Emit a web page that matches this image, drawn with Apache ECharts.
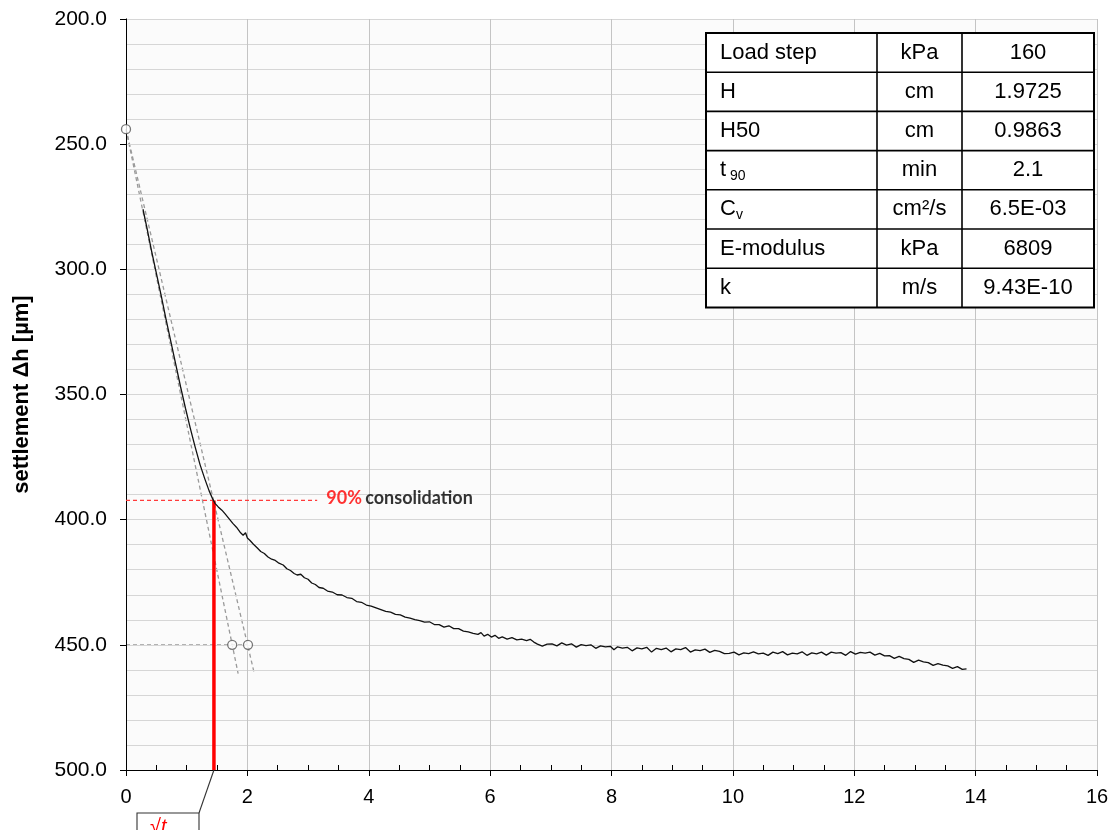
<!DOCTYPE html>
<html>
<head>
<meta charset="utf-8">
<script src="https://cdn.jsdelivr.net/npm/echarts@6/dist/echarts.min.js"></script>
<style>
  html, body { margin: 0; padding: 0; background: #ffffff; }
  #chart { width: 1114px; height: 830px; }
</style>
</head>
<body>
<div id="chart"></div>
<script>
// Square root of time [√min] for each reading
const sqrtTime = [
  0.28, 0.35, 0.42, 0.50, 0.58, 0.66, 0.74, 0.82, 0.90, 0.98,
  1.06, 1.14, 1.22, 1.30, 1.37, 1.43, 1.47, 1.52, 1.58, 1.63,
  1.70, 1.76, 1.82, 1.88, 1.93, 1.97, 2.00, 2.04, 2.10, 2.16,
  2.22, 2.28, 2.34, 2.40, 2.46, 2.52, 2.59, 2.65, 2.71, 2.77,
  2.82, 2.88, 2.94, 3.00, 3.06, 3.12, 3.18, 3.25, 3.32, 3.40,
  3.48, 3.56, 3.64, 3.72, 3.80, 3.88, 3.96, 4.04, 4.12, 4.20,
  4.28, 4.36, 4.44, 4.52, 4.60, 4.68, 4.76, 4.84, 4.92, 5.00,
  5.08, 5.16, 5.24, 5.32, 5.40, 5.48, 5.56, 5.64, 5.72, 5.80,
  5.85, 5.90, 5.96, 6.02, 6.08, 6.14, 6.20, 6.28, 6.36, 6.44,
  6.52, 6.60, 6.66, 6.72, 6.78, 6.86, 6.94, 7.02, 7.10, 7.18,
  7.26, 7.34, 7.42, 7.50, 7.58, 7.66, 7.74, 7.82, 7.90, 7.98,
  8.04, 8.10, 8.18, 8.26, 8.34, 8.42, 8.50, 8.58, 8.66, 8.74,
  8.82, 8.90, 8.98, 9.06, 9.14, 9.22, 9.30, 9.38, 9.46, 9.54,
  9.62, 9.70, 9.78, 9.86, 9.94, 10.02, 10.10, 10.18, 10.26, 10.34,
  10.42, 10.50, 10.58, 10.66, 10.74, 10.82, 10.90, 10.98, 11.06, 11.14,
  11.22, 11.30, 11.38, 11.46, 11.54, 11.62, 11.70, 11.78, 11.86, 11.94,
  12.02, 12.10, 12.18, 12.26, 12.34, 12.42, 12.50, 12.58, 12.66, 12.74,
  12.82, 12.90, 12.98, 13.06, 13.14, 13.22, 13.30, 13.38, 13.46, 13.54,
  13.62, 13.70, 13.78, 13.85
];

// Measured settlement Δh [µm]
const settlement = [
  276.0, 284.0, 292.5, 301.5, 310.5, 320.0, 329.0, 338.0, 347.0, 355.5,
  363.5, 371.0, 378.0, 383.8, 388.5, 391.8, 393.6, 394.9, 396.2, 397.6,
  399.7, 401.5, 403.0, 405.0, 406.2, 405.2, 407.3, 408.2, 409.8, 411.2,
  412.7, 413.5, 414.9, 415.8, 416.3, 417.4, 418.1, 419.6, 420.3, 421.5,
  422.1, 421.8, 423.2, 423.8, 425.3, 425.9, 427.1, 427.4, 428.5, 428.9,
  430.0, 430.1, 431.1, 431.4, 432.7, 433.0, 434.1, 434.5, 435.2, 435.9,
  436.6, 436.9, 437.8, 438.0, 438.9, 439.3, 439.9, 440.3, 440.9, 440.8,
  441.9, 441.9, 442.9, 442.4, 443.5, 443.5, 444.5, 444.8, 445.4, 445.8,
  445.1, 446.5, 445.8, 446.9, 446.2, 447.4, 446.8, 447.7, 447.1, 448.0,
  447.7, 448.3, 447.8, 448.9, 449.7, 450.5, 449.7, 449.6, 450.4, 449.2,
  450.1, 449.6, 450.9, 449.9, 450.3, 450.0, 451.4, 450.4, 450.8, 450.6,
  452.0, 450.8, 451.3, 451.0, 452.4, 451.2, 451.6, 451.0, 452.9, 451.4,
  451.9, 451.3, 452.8, 451.6, 451.9, 451.1, 452.9, 452.0, 452.3, 451.7,
  453.0, 452.2, 452.6, 453.5, 453.4, 452.9, 454.0, 453.2, 453.5, 452.8,
  453.6, 453.3, 454.2, 452.9, 453.5, 452.7, 454.0, 453.3, 453.6, 452.8,
  454.2, 453.2, 453.6, 452.9, 454.1, 452.9, 453.3, 453.1, 454.2, 452.7,
  453.7, 453.0, 453.3, 452.9, 454.1, 453.4, 454.4, 454.3, 455.4, 454.6,
  455.5, 455.8, 457.0, 456.1, 456.8, 457.1, 458.2, 457.5, 458.1, 458.4,
  459.4, 458.7, 459.8, 459.6
];

// Taylor construction: initial tangent and the 1.15× abscissa line
const constructionStart = [0, 244];
const tangentEnd = [1.848, 461.5];
const offsetLineEnd = [2.115, 461.5];
const referenceLevel = 450;
const tangentAtLevel = [1.75, 450];
const offsetAtLevel = [2.01, 450];

// 90 % consolidation point
const t90Root = 1.449;
const settlement90 = 392.3;
const label90End = 3.15;
const label90Pos = [3.3, 391.6];

// Axis ranges
const xRange = [0, 16];
const yRange = [200, 500];

// Result table
const tableNames = ['Load step', 'H', 'H50', 't_90', 'C_v', 'E-modulus', 'k'];
const tableUnits = ['kPa', 'cm', 'cm', 'min', 'cm²/s', 'kPa', 'm/s'];
const tableValues = ['160', '1.9725', '0.9863', '2.1', '6.5E-03', '6809', '9.43E-10'];

const chart = echarts.init(document.getElementById('chart'), null, { renderer: 'canvas' });

const curveData = sqrtTime.map((t, i) => [t, settlement[i]]);

const baseFont = 'Liberation Sans, Arial, sans-serif';

// Result table as graphic elements
function buildTable() {
  const left = 706, top = 33, colW = [171, 85, 132], rowH = 39.2;
  const width = colW[0] + colW[1] + colW[2];
  const height = rowH * tableNames.length;
  const els = [];
  els.push({ type: 'rect', shape: { x: left, y: top, width: width, height: height },
    style: { fill: '#ffffff', stroke: '#000', lineWidth: 2 }, z: 10 });
  for (let r = 1; r < tableNames.length; r++) {
    els.push({ type: 'line', shape: { x1: left, y1: top + r * rowH, x2: left + width, y2: top + r * rowH },
      style: { stroke: '#000', lineWidth: 1.6 }, z: 11 });
  }
  let cx = left;
  for (let c = 0; c < 2; c++) {
    cx += colW[c];
    els.push({ type: 'line', shape: { x1: cx, y1: top, x2: cx, y2: top + height },
      style: { stroke: '#000', lineWidth: 1.6 }, z: 11 });
  }
  tableNames.forEach((name, r) => {
    const cy = top + r * rowH + rowH / 2;
    const parts = name.split('_');
    const txt = parts.length > 1 ? '{m|' + parts[0] + '}{s|' + (parts[1] === '90' ? ' 90' : parts[1]) + '}' : '{m|' + name + '}';
    els.push({ type: 'text', x: left + 14, y: cy, z: 12,
      style: { text: txt, verticalAlign: 'middle', align: 'left',
        rich: {
          m: { fontSize: 22, fontFamily: baseFont, fill: '#000' },
          s: { fontSize: 14, fontFamily: baseFont, fill: '#000', padding: [11, 0, 0, 0] }
        } } });
    els.push({ type: 'text', x: left + colW[0] + colW[1] / 2, y: cy, z: 12,
      style: { text: tableUnits[r], fontSize: 22, fontFamily: baseFont, fill: '#000', align: 'center', verticalAlign: 'middle' } });
    els.push({ type: 'text', x: left + colW[0] + colW[1] + colW[2] / 2, y: cy, z: 12,
      style: { text: tableValues[r], fontSize: 22, fontFamily: baseFont, fill: '#000', align: 'center', verticalAlign: 'middle' } });
  });
  return els;
}

const dashGray = { color: '#9a9a9a', width: 1.3, type: [4, 3] };

const option = {
  animation: false,
  backgroundColor: '#ffffff',
  grid: { left: 126, right: 17, top: 19, bottom: 60, show: true, backgroundColor: '#fbfbfb', borderWidth: 0,
    containLabel: false, outerBoundsMode: 'none' },
  xAxis: [
    {
      type: 'value', min: xRange[0], max: xRange[1], interval: 2,
      axisLine: { show: true, onZero: false, lineStyle: { color: '#000', width: 1 } },
      axisTick: { show: true, length: 6, lineStyle: { color: '#000', width: 1 } },
      axisLabel: { fontSize: 20, fontFamily: baseFont, color: '#000', margin: 17 },
      splitLine: { show: true, lineStyle: { color: '#c4c4c4', width: 1 } },
      z: 3
    },
    {
      type: 'value', min: xRange[0], max: xRange[1], interval: 0.5, position: 'bottom',
      axisLine: { show: false },
      axisTick: { show: true, inside: true, length: 5, lineStyle: { color: '#000', width: 1 } },
      axisLabel: { show: false },
      splitLine: { show: false }
    }
  ],
  yAxis: [
    {
      type: 'value', inverse: true, min: yRange[0], max: yRange[1], interval: 50,
      name: 'settlement Δh [µm]', nameLocation: 'middle', nameGap: 93, nameRotate: 90,
      nameTextStyle: { fontSize: 22, fontWeight: 'bold', fontFamily: baseFont, color: '#000' },
      axisLine: { show: true, onZero: false, lineStyle: { color: '#000', width: 1 } },
      axisTick: { show: true, length: 6, lineStyle: { color: '#000', width: 1 } },
      axisLabel: { fontSize: 21, fontFamily: baseFont, color: '#000', margin: 19, formatter: v => v.toFixed(1) },
      splitLine: { show: true, lineStyle: { color: '#d6d6d6', width: 1 } },
      minorTick: { show: false, splitNumber: 5 },
      minorSplitLine: { show: true, lineStyle: { color: '#d6d6d6', width: 1 } },
      z: 3
    },
    {
      type: 'value', inverse: true, min: yRange[0], max: yRange[1], position: 'right',
      axisLine: { show: true, lineStyle: { color: '#8a8a8a', width: 1 } },
      axisTick: { show: false }, axisLabel: { show: false }, splitLine: { show: false }
    }
  ],
  series: [
    {
      name: 'reference level', type: 'line', symbol: 'none', silent: true,
      data: [[0, referenceLevel], [offsetAtLevel[0], referenceLevel]],
      lineStyle: dashGray, z: 2
    },
    {
      name: 'tangent', type: 'line', symbol: 'none', silent: true,
      data: [constructionStart, tangentEnd], lineStyle: dashGray, z: 2
    },
    {
      name: 'offset line', type: 'line', symbol: 'none', silent: true,
      data: [constructionStart, offsetLineEnd], lineStyle: dashGray, z: 2
    },
    {
      name: '90% level', type: 'line', symbol: 'none', silent: true,
      data: [[0, settlement90], [label90End, settlement90]],
      lineStyle: { color: '#ff3b3b', width: 1.1, type: [4, 3] }, z: 3
    },
    {
      name: 't90', type: 'line', symbol: 'none', silent: true,
      data: [[t90Root, settlement90], [t90Root, yRange[1]]],
      lineStyle: { color: '#ff0000', width: 3.5 }, z: 4
    },
    {
      name: 'settlement', type: 'line', symbol: 'none', silent: true,
      data: curveData,
      lineStyle: { color: '#111111', width: 1.3 }, z: 5
    },
    {
      name: 'construction points', type: 'scatter', silent: true,
      data: [constructionStart, tangentAtLevel, offsetAtLevel],
      symbol: 'circle', symbolSize: 9,
      itemStyle: { color: '#ffffff', borderColor: '#555555', borderWidth: 1.3 }, z: 6
    },
    {
      name: 'label 90', type: 'scatter', silent: true,
      data: [label90Pos], symbolSize: 0,
      label: {
        show: true, position: 'right', distance: 0,
        formatter: '{r|90%} {b|consolidation}',
        rich: {
          r: { color: '#ff0000', fontWeight: 'bold', fontSize: 18, fontFamily: 'Lato, sans-serif' },
          b: { color: '#000000', fontWeight: 'bold', fontSize: 18, fontFamily: 'Lato, sans-serif' }
        }
      }, z: 6
    }
  ],
  graphic: buildTable()
};

chart.setOption(option);

// Leader line from the t90 foot to the annotation box below the axis
const foot = chart.convertToPixel({ gridIndex: 0 }, [t90Root, yRange[1]]);
const boxX = 137, boxY = 813, boxW = 62;
chart.setOption({
  graphic: buildTable().concat([
    { type: 'line', shape: { x1: foot[0], y1: foot[1], x2: boxX + boxW, y2: boxY },
      style: { stroke: '#333', lineWidth: 1.1 }, z: 20 },
    { type: 'rect', shape: { x: boxX, y: boxY, width: boxW, height: 40 },
      style: { fill: '#ffffff', stroke: '#333', lineWidth: 1.1 }, z: 20 },
    { type: 'text', x: boxX + 13, y: boxY + 4, z: 21,
      style: { text: '√t', fontSize: 20, fontStyle: 'italic', fontFamily: baseFont, fill: '#ff0000' } }
  ])
}, { replaceMerge: ['graphic'] });
</script>
</body>
</html>
